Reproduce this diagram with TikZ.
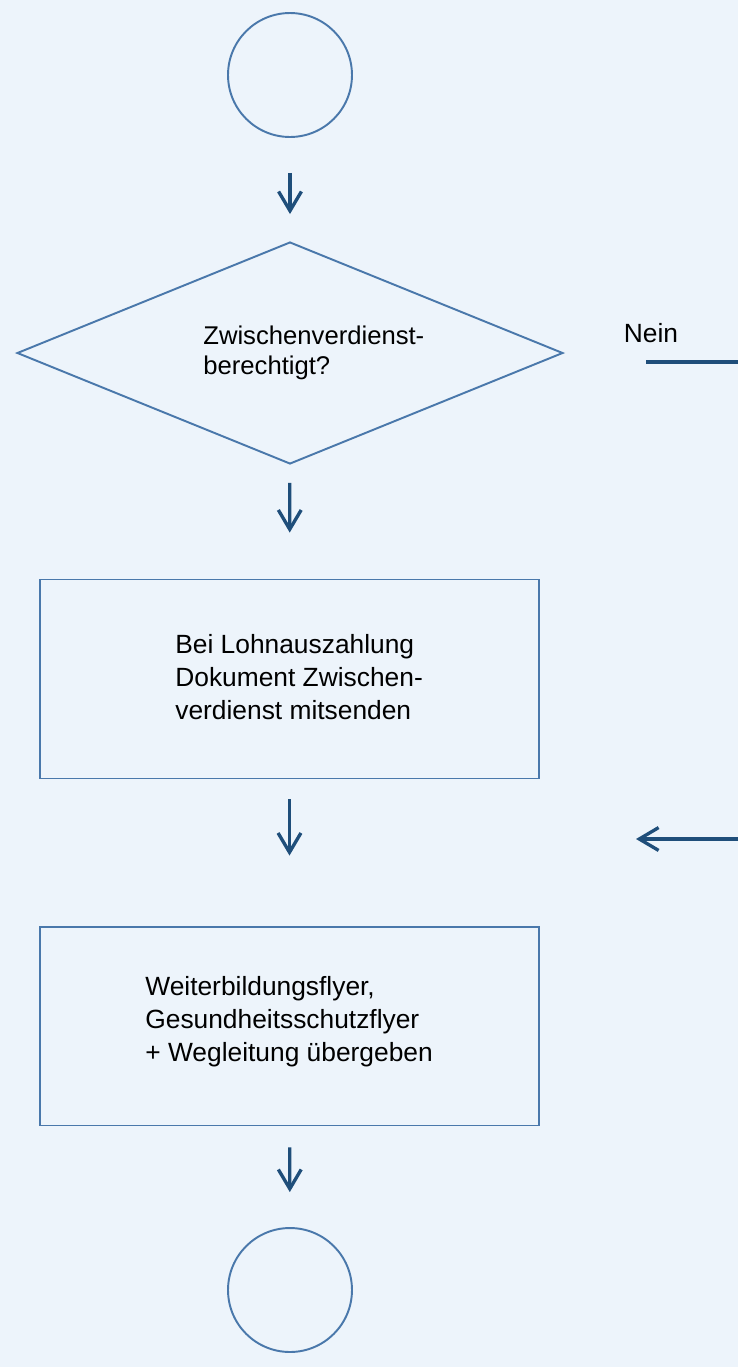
\documentclass[tikz,border=0pt]{standalone}
\usepackage{fontspec}
\setmainfont{Liberation Sans}
\usepackage{xcolor}
\usetikzlibrary{shapes.geometric,arrows.meta,positioning,calc}
\definecolor{bgblue}{HTML}{EDF4FB}
\definecolor{boxline}{HTML}{4A78AB}
\definecolor{arrowblue}{HTML}{1F4E7A}

\begin{document}
\begin{tikzpicture}[x=0.02cm, y=-0.02cm,
    shape line/.style={draw=boxline, line width=1.1pt},
    endcircle/.style={shape line, circle, minimum size=2.48cm, inner sep=0pt},
    decision/.style={shape line, diamond, minimum width=10.92cm, minimum height=4.44cm, inner sep=0pt},
    taskbox/.style={shape line, rectangle, minimum width=9.98cm, minimum height=3.98cm, inner sep=0pt},
    flowtext/.style={anchor=west, align=left, inner sep=0pt, font=\fontsize{15}{18.7}\selectfont},
    flowarrow/.style={draw=arrowblue, line width=1.9pt, -{Straight Barb[length=11pt,width=13pt,line width=1.9pt]}},
]
        % Hintergrund
        \fill[bgblue] (0,0) rectangle (738,1367);
        \useasboundingbox (0,0) rectangle (738,1367);

        % Start
        \node[endcircle] (start) at (290,75) {};

        % Entscheidung
        \node[decision] (check) at (290,353) {};
        \node[flowtext, font=\fontsize{14.6}{17.2}\selectfont] (checktext) at (203,353) {Zwischenverdienst-\\berechtigt?};
        \node[font=\fontsize{15}{18}\selectfont, inner sep=0pt] (nein) at (651,333) {Nein};
        \coordinate (neinstart) at (646,362);
        \coordinate (neinend) at (738,362);
        \draw[draw=arrowblue, line width=1.9pt] (neinstart) -- (neinend);

        % Lohnauszahlung
        \node[taskbox] (lohn) at (289.5,679) {};
        \node[flowtext] (lohntext) at (175,677) {Bei Lohnauszahlung\\Dokument Zwischen-\\verdienst mitsenden};

        % Flyer
        \node[taskbox] (flyer) at (289.5,1026) {};
        \node[flowtext] (flyertext) at (145,1022) {Weiterbildungsflyer,\\Gesundheitsschutzflyer\\+ Wegleitung übergeben};

        % Ende
        \node[endcircle] (ende) at (290,1290) {};

        % Pfeile
        \draw[flowarrow, shorten <=0.7cm, shorten >=0.54cm] (start) -- (check);
        \draw[flowarrow, shorten <=0.36cm, shorten >=0.92cm] (check) -- (lohn);
        \draw[flowarrow, shorten <=0.4cm, shorten >=1.4cm] (lohn) -- (flyer);
        \draw[flowarrow, shorten <=0.42cm, shorten >=0.7cm] (flyer) -- (ende);
        \coordinate (rueckstart) at (738,839);
        \coordinate (rueckend) at (636,839);
        \draw[flowarrow] (rueckstart) -- (rueckend);
    \end{tikzpicture}
\end{document}
